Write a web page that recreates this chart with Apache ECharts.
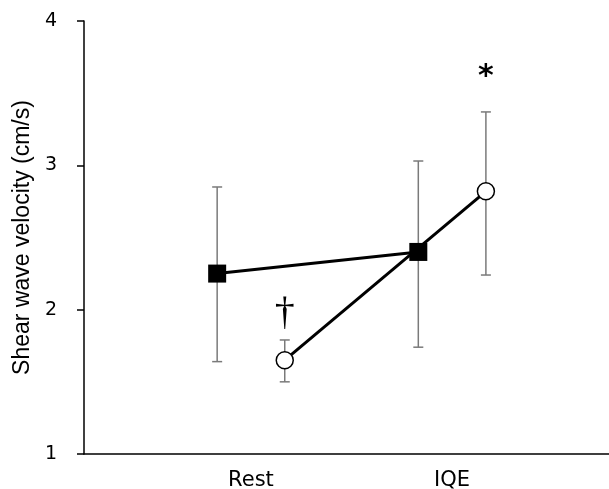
<!DOCTYPE html>
<html>
<head>
<meta charset="utf-8">
<script src="https://cdn.jsdelivr.net/npm/echarts@6/dist/echarts.min.js"></script>
<style>html,body{margin:0;padding:0;background:#fff;}#c{width:609px;height:489px;}</style>
</head>
<body>
<div id="c"></div>
<script>
// ---- data ----
const categories = ['Rest', 'IQE'];
const yTicks = [1, 2, 3, 4];
// filled squares
const squareMean = [2.25, 2.40];
const squareUpper = [2.85, 3.03];
const squareLower = [1.64, 1.74];
// open circles
const circleMean = [1.65, 2.82];
const circleUpper = [1.79, 3.37];
const circleLower = [1.50, 2.24];
// significance marks (category index, value, text)
const marks = [
  { cat: 0, value: 1.97, text: '\u2020' },
  { cat: 1, value: 3.61, text: '*' }
];
const yName = 'Shear wave velocity (cm/s)';

// ---- layout ----
const OFFSET = 0.168; // horizontal shift of the two groups within a category
const FONT = '"Liberation Sans", Arial, sans-serif';
const WIDE = '"DejaVu Sans", sans-serif';
const markFont = {
  '\u2020': { fontFamily: '"Liberation Serif", serif', fontSize: 40, fontWeight: 'normal' },
  '*': { fontFamily: WIDE, fontSize: 30, fontWeight: 'bold' }
};

const sqPts = squareMean.map((v, i) => [i + 1 - OFFSET, v]);
const ciPts = circleMean.map((v, i) => [i + 1 + OFFSET, v]);
const errData = [];
squareMean.forEach((v, i) => errData.push([i + 1 - OFFSET, squareLower[i], squareUpper[i]]));
circleMean.forEach((v, i) => errData.push([i + 1 + OFFSET, circleLower[i], circleUpper[i]]));
const markData = marks.map(m => ({
  value: [m.cat + 1 + OFFSET, m.value],
  label: Object.assign({ formatter: m.text }, markFont[m.text])
}));

const chart = echarts.init(document.getElementById('c'), null, { renderer: 'canvas' });
chart.setOption({
  animation: false,
  backgroundColor: '#fff',
  grid: { left: 84, right: 0, top: 21, bottom: 35, containLabel: false, outerBoundsMode: 'none' },
  xAxis: {
    type: 'value', min: 0.17, max: 2.78,
    axisLine: { show: true, onZero: false, lineStyle: { color: '#000', width: 1.5 } },
    axisTick: { show: false },
    splitLine: { show: false },
    axisLabel: {
      customValues: categories.map((c, i) => i + 1),
      formatter: v => categories[Math.round(v) - 1] || '',
      color: '#000', fontSize: 21, fontFamily: WIDE, margin: 16
    }
  },
  yAxis: {
    type: 'value', min: yTicks[0], max: yTicks[yTicks.length - 1], interval: 1,
    name: yName, nameLocation: 'middle', nameGap: 49, nameRotate: 90,
    nameTextStyle: { color: '#000', fontSize: 23, fontFamily: FONT },
    axisLine: { show: true, lineStyle: { color: '#000', width: 1.5 } },
    axisTick: { show: true, length: 7, lineStyle: { color: '#000', width: 1.5 } },
    splitLine: { show: false },
    axisLabel: { color: '#000', fontSize: 19, fontFamily: WIDE, margin: 27, padding: [3, 0, 0, 0] }
  },
  series: [
    {
      type: 'custom', z: 1, data: errData,
      renderItem: (params, api) => {
        const x = api.value(0);
        const lo = api.coord([x, api.value(1)]);
        const hi = api.coord([x, api.value(2)]);
        const hw = 5;
        const st = { stroke: '#7a7a7a', lineWidth: 1.5 };
        return {
          type: 'group', children: [
            { type: 'line', shape: { x1: lo[0], y1: lo[1], x2: hi[0], y2: hi[1] }, style: st },
            { type: 'line', shape: { x1: lo[0] - hw, y1: lo[1], x2: lo[0] + hw, y2: lo[1] }, style: st },
            { type: 'line', shape: { x1: hi[0] - hw, y1: hi[1], x2: hi[0] + hw, y2: hi[1] }, style: st }
          ]
        };
      }
    },
    {
      type: 'line', z: 3, data: sqPts, symbol: 'rect', symbolSize: 18,
      lineStyle: { color: '#000', width: 3 },
      itemStyle: { color: '#000', borderColor: '#000', borderWidth: 0 }
    },
    {
      type: 'line', z: 3, data: ciPts, symbol: 'circle', symbolSize: 17,
      lineStyle: { color: '#000', width: 3 },
      itemStyle: { color: '#fff', borderColor: '#000', borderWidth: 1.5 }
    },
    {
      type: 'scatter', z: 4, data: markData, symbolSize: 0,
      itemStyle: { opacity: 1, color: '#000' },
      label: { show: true, position: 'inside', color: '#000', opacity: 1 }
    }
  ]
});
</script>
</body>
</html>
